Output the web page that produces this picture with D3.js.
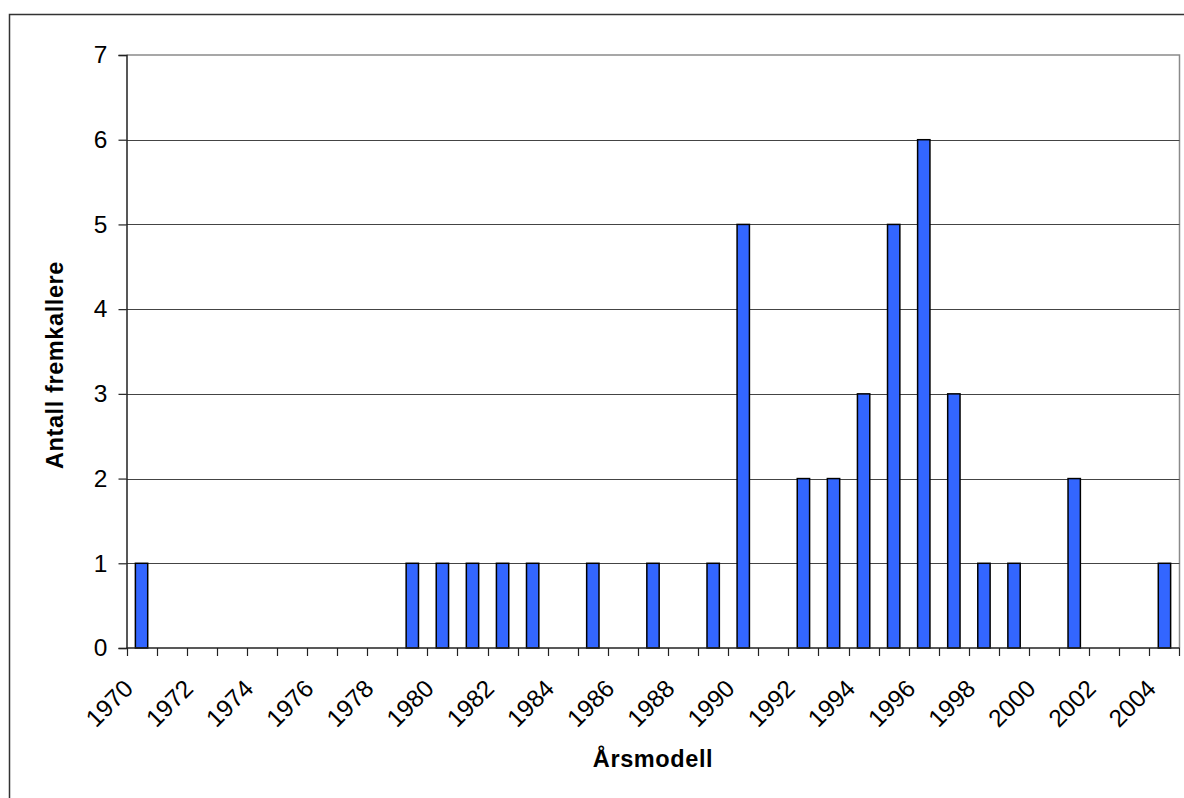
<!DOCTYPE html>
<html>
<head>
<meta charset="utf-8">
<script src="https://cdn.jsdelivr.net/npm/d3@7"></script>
<style>
  html, body { margin: 0; padding: 0; background: #fff; }
  svg { display: block; }
  text { font-family: Arial, "Liberation Sans", sans-serif; fill: #000; }
</style>
</head>
<body>
<svg id="chart" width="1184" height="798"></svg>
<script>
// Årsmodell (model year) categories
const years = d3.range(1970, 2005).map(String);
// Antall fremkallere per årsmodell
const counts = [
  1, 0, 0, 0, 0, 0, 0, 0, 0, 1,   // 1970–1979
  1, 1, 1, 1, 0, 1, 0, 1, 0, 1,   // 1980–1989
  5, 0, 2, 2, 3, 5, 6, 3, 1, 1,   // 1990–1999
  0, 2, 0, 0, 1                   // 2000–2004
];
// Every other year is labelled on the x axis
const xTickLabels = years.filter((d, i) => i % 2 === 0);
const yTicks = [0, 1, 2, 3, 4, 5, 6, 7];

const xTitle = "Årsmodell";
const yTitle = "Antall fremkallere";

const svg = d3.select("#chart");
const plot = { left: 126.5, right: 1179.5, top: 55, bottom: 648 };

// Outer chart frame
svg.append("rect")
  .attr("x", 9.5).attr("y", 14.5)
  .attr("width", 1300).attr("height", 900)
  .attr("fill", "none").attr("stroke", "#333").attr("stroke-width", 1.5);

const x = d3.scaleBand().domain(years).range([plot.left, plot.right]).padding(0);
const y = d3.scaleLinear().domain([0, 7]).range([plot.bottom, plot.top]);

// Plot area border (top and right in light grey)
svg.append("path")
  .attr("d", `M${plot.left},${plot.top}H${plot.right}V${plot.bottom}`)
  .attr("fill", "none").attr("stroke", "#8a8a8a").attr("stroke-width", 1.5);

// Horizontal gridlines
svg.append("g")
  .selectAll("line")
  .data(yTicks.filter(d => d > 0 && d < 7))
  .join("line")
  .attr("x1", plot.left).attr("x2", plot.right)
  .attr("y1", d => Math.round(y(d)) + 0.5).attr("y2", d => Math.round(y(d)) + 0.5)
  .attr("stroke", "#444").attr("stroke-width", 1);

// Bars
const barW = x.bandwidth() * 0.41;
svg.append("g")
  .selectAll("rect")
  .data(years.map((yr, i) => ({ yr, v: counts[i] })).filter(d => d.v > 0))
  .join("rect")
  .attr("x", d => x(d.yr) + (x.bandwidth() - barW) / 2)
  .attr("y", d => y(d.v))
  .attr("width", barW)
  .attr("height", d => y(0) - y(d.v))
  .attr("fill", "#3366ff")
  .attr("stroke", "#000")
  .attr("stroke-width", 1.5);

// Y axis
const yAxis = svg.append("g")
  .attr("transform", `translate(${plot.left},0)`)
  .call(d3.axisLeft(y).tickValues(yTicks).tickSize(8).tickPadding(11).tickFormat(d3.format("d")));
yAxis.select(".domain").attr("stroke", "#222").attr("stroke-width", 1.5);
yAxis.selectAll(".tick line").attr("stroke", "#222").attr("stroke-width", 1.2);
yAxis.selectAll(".tick text")
  .attr("font-size", 24.5)
  .attr("font-family", "Arial, 'Liberation Sans', sans-serif")
  .attr("fill", "#000");

// X axis: ticks on category boundaries
const xAxisG = svg.append("g");
xAxisG.append("line")
  .attr("x1", plot.left).attr("x2", plot.right)
  .attr("y1", plot.bottom).attr("y2", plot.bottom)
  .attr("stroke", "#222").attr("stroke-width", 1.5);
const boundaries = years.map(d => x(d)).concat([x(years[years.length - 1]) + x.bandwidth()]);
xAxisG.selectAll("line.tk")
  .data(boundaries)
  .join("line")
  .attr("class", "tk")
  .attr("x1", d => Math.round(d) + 0.5).attr("x2", d => Math.round(d) + 0.5)
  .attr("y1", plot.bottom).attr("y2", plot.bottom + 8)
  .attr("stroke", "#222").attr("stroke-width", 1.2);

xAxisG.selectAll("text")
  .data(xTickLabels)
  .join("text")
  .attr("text-anchor", "end")
  .attr("font-size", 24.5)
  .attr("transform", d => `translate(${x(d) + x.bandwidth() / 2 - 7},${plot.bottom + 42}) rotate(-45)`)
  .text(d => d);

// Axis titles
svg.append("text")
  .attr("x", (plot.left + plot.right) / 2)
  .attr("y", 767)
  .attr("text-anchor", "middle")
  .attr("font-size", 23.5)
  .attr("font-weight", "bold")
  .attr("letter-spacing", 0.6)
  .text(xTitle);

svg.append("text")
  .attr("transform", `translate(62.5,365) rotate(-90)`)
  .attr("text-anchor", "middle")
  .attr("font-size", 23.5)
  .attr("font-weight", "bold")
  .attr("letter-spacing", 0.6)
  .text(yTitle);
</script>
</body>
</html>
